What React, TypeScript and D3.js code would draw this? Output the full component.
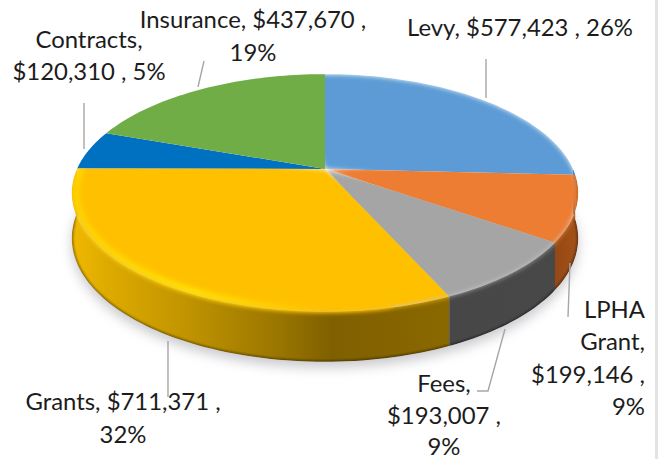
import React from "react";
import * as d3 from "d3";

const categories = ["Levy", "LPHA Grant", "Fees", "Grants", "Contracts", "Insurance"];
const amounts = [577423, 199146, 193007, 711371, 120310, 437670];
const percents = [26, 9, 9, 32, 5, 19];

const faceColors = ["#5b9bd5", "#ed7d31", "#a5a5a5", "#ffc000", "#0070c0", "#70ad47"];

// how many words go on each line of a label
const lineBreaks = [[4], [1, 1, 2, 1], [1, 2, 1], [3, 1], [1, 3], [3, 1]];
const labelX = [520, 645, 444, 123, 89, 253];
const labelY = [36, 318, 392, 410, 48, 28];
const labelAnchor = ["middle", "end", "middle", "middle", "middle", "middle"];
const lineGap = [0, 32.3, 31.5, 33, 32, 33];

const leaders: [number, number][][] = [
  [[486, 59], [486, 98]],
  [[570, 263], [568, 317]],
  [[505, 329], [488, 391], [477, 391]],
  [[168, 341], [168, 397]],
  [[84, 103], [84, 149]],
  [[204, 61], [198, 87]],
];

const width = 664;
const height = 459;

// perspective disc
const cx = 325;
const cy = 169;
const A = 248;
const B = 114;
const tilt = 0.2016;

const project = (t: number, r = 1): [number, number] => {
  const s = r * Math.sin(t);
  const c = r * Math.cos(t);
  const w = 1 + tilt * c;
  return [cx + (A * s) / w, cy - (B * c) / w];
};
const projectLow = (t: number): [number, number] => {
  const [x, y] = project(t);
  return [x, y + 44 - 6 * Math.cos(t)];
};
const sweep = (a0: number, a1: number) => {
  const n = Math.max(2, Math.ceil((a1 - a0) * 40));
  return d3.range(n + 1).map((i) => a0 + ((a1 - a0) * i) / n);
};

const line = d3.line();
const fmt = d3.format("$,");

const arcs = d3.pie<number>().sort(null)(amounts);
const facePath = (a0: number, a1: number) =>
  line([[cx, cy], ...sweep(a0, a1).map((t) => project(t))]) + "Z";
const sidePath = (a0: number, a1: number) => {
  const ts = sweep(a0, a1);
  return line([...ts.map((t) => project(t)), ...ts.slice().reverse().map(projectLow)]) + "Z";
};

const sideStops: [number, string][][] = [
  [[0, "#2f5f8c"], [1, "#2f5f8c"]],
  [[0, "#8f4512"], [1, "#a5521a"]],
  [[0, "#474747"], [1, "#484848"]],
  [[0, "#f0b800"], [0.1, "#dcaa00"], [0.27, "#c69800"], [0.52, "#a07a00"], [0.7, "#7f6000"], [1, "#8a6800"]],
];
const sideRanges = [[520, 580], [545, 580], [444, 552], [72, 444]];

export default function App() {
  const lo = Math.PI / 2;
  const hi = (3 * Math.PI) / 2;
  const front = arcs
    .map((a, i) => ({ i, a0: Math.max(a.startAngle, lo), a1: Math.min(a.endAngle, hi), start: a.startAngle, end: a.endAngle }))
    .filter((d) => d.a1 > d.a0);
  const isFront = (i: number) => front.some((d) => d.i === i);
  const grants = categories.indexOf("Grants");

  return (
    <svg width={width} height={height} style={{ position: "absolute", left: 0, top: 0, background: "#fff" }}>
      <defs>
        <filter id="shadow" x="-20%" y="-20%" width="140%" height="140%">
          <feGaussianBlur stdDeviation="6" />
        </filter>
        <filter id="soft" x="-20%" y="-20%" width="140%" height="140%">
          <feGaussianBlur stdDeviation="2.6" />
        </filter>
        <filter id="glow" x="-20%" y="-20%" width="140%" height="140%">
          <feGaussianBlur stdDeviation="2.6" />
        </filter>
        <filter id="edge" x="-20%" y="-20%" width="140%" height="140%">
          <feGaussianBlur stdDeviation="1" />
        </filter>
        <linearGradient id="glowGold" gradientUnits="userSpaceOnUse" x1={72} x2={320} y1={0} y2={0}>
          <stop offset={0} stopColor="#ffd400" />
          <stop offset={0.5} stopColor="#ffe400" />
          <stop offset={1} stopColor="#ffc000" />
        </linearGradient>
        {front.map((d) => (
          <React.Fragment key={d.i}>
            <linearGradient id={`side${d.i}`} gradientUnits="userSpaceOnUse" x1={sideRanges[d.i][0]} x2={sideRanges[d.i][1]} y1={0} y2={0}>
              {sideStops[d.i].map(([o, c]) => <stop key={o} offset={o} stopColor={c} />)}
            </linearGradient>
            <clipPath id={`clip${d.i}`}>
              <path d={facePath(d.start, d.end)} />
              <path d={sidePath(d.a0, d.a1)} />
            </clipPath>
          </React.Fragment>
        ))}
      </defs>

      <rect x={655} y={0} width={3} height={height} fill="#e3e3e3" />

      {/* shadow under the disc */}
      <path
        d={line(sweep(lo - 0.3, hi + 0.3).map((t) => { const [x, y] = projectLow(t); return [x, y + 6]; })) + "Z"}
        fill="#b9b9c0"
        opacity={0.75}
        filter="url(#shadow)"
      />

      {/* flat back slices */}
      {arcs.map((a, i) => !isFront(i) && (
        <path key={i} d={facePath(a.startAngle, a.endAngle)} fill={faceColors[i]} />
      ))}

      {/* front slices with wall and bevel */}
      {front.map((d) => (
        <g key={d.i} clipPath={`url(#clip${d.i})`}>
          <path d={sidePath(d.a0, d.a1)} fill={`url(#side${d.i})`} />
          <path d={line(sweep(d.a0, d.a1).map(projectLow))!} fill="none" stroke="#000" strokeOpacity={0.4} strokeWidth={3} filter="url(#edge)" />
          <path d={facePath(d.start - 0.15, d.end + 0.15)} fill={faceColors[d.i]} filter="url(#soft)" />
          {d.i === grants && (
            <path
              d={line(sweep(d.a0 + 0.2, d.a1 + 0.1).map((t) => project(t, 0.982)))!}
              fill="none"
              stroke="url(#glowGold)"
              strokeWidth={6}
              filter="url(#glow)"
            />
          )}
        </g>
      ))}

      {/* leader lines */}
      {leaders.map((pts, i) => (
        <path key={i} d={line(pts)!} fill="none" stroke="#a6a6a6" strokeWidth={1.4} />
      ))}

      {/* labels */}
      {categories.map((cat, i) => {
        const words = `${cat}, ${fmt(amounts[i])} , ${percents[i]}%`.split(" ");
        let at = 0;
        return (
          <text
            key={cat}
            textAnchor={labelAnchor[i] as "middle" | "end"}
            fontFamily="Lato, 'Noto Sans', sans-serif"
            fontSize={23.9}
            fill="#1c1c1c"
          >
            {lineBreaks[i].map((n, j) => {
              const txt = words.slice(at, at + n).join(" ");
              at += n;
              return <tspan key={j} x={labelX[i]} y={labelY[i] + j * lineGap[i]}>{txt}</tspan>;
            })}
          </text>
        );
      })}
    </svg>
  );
}
